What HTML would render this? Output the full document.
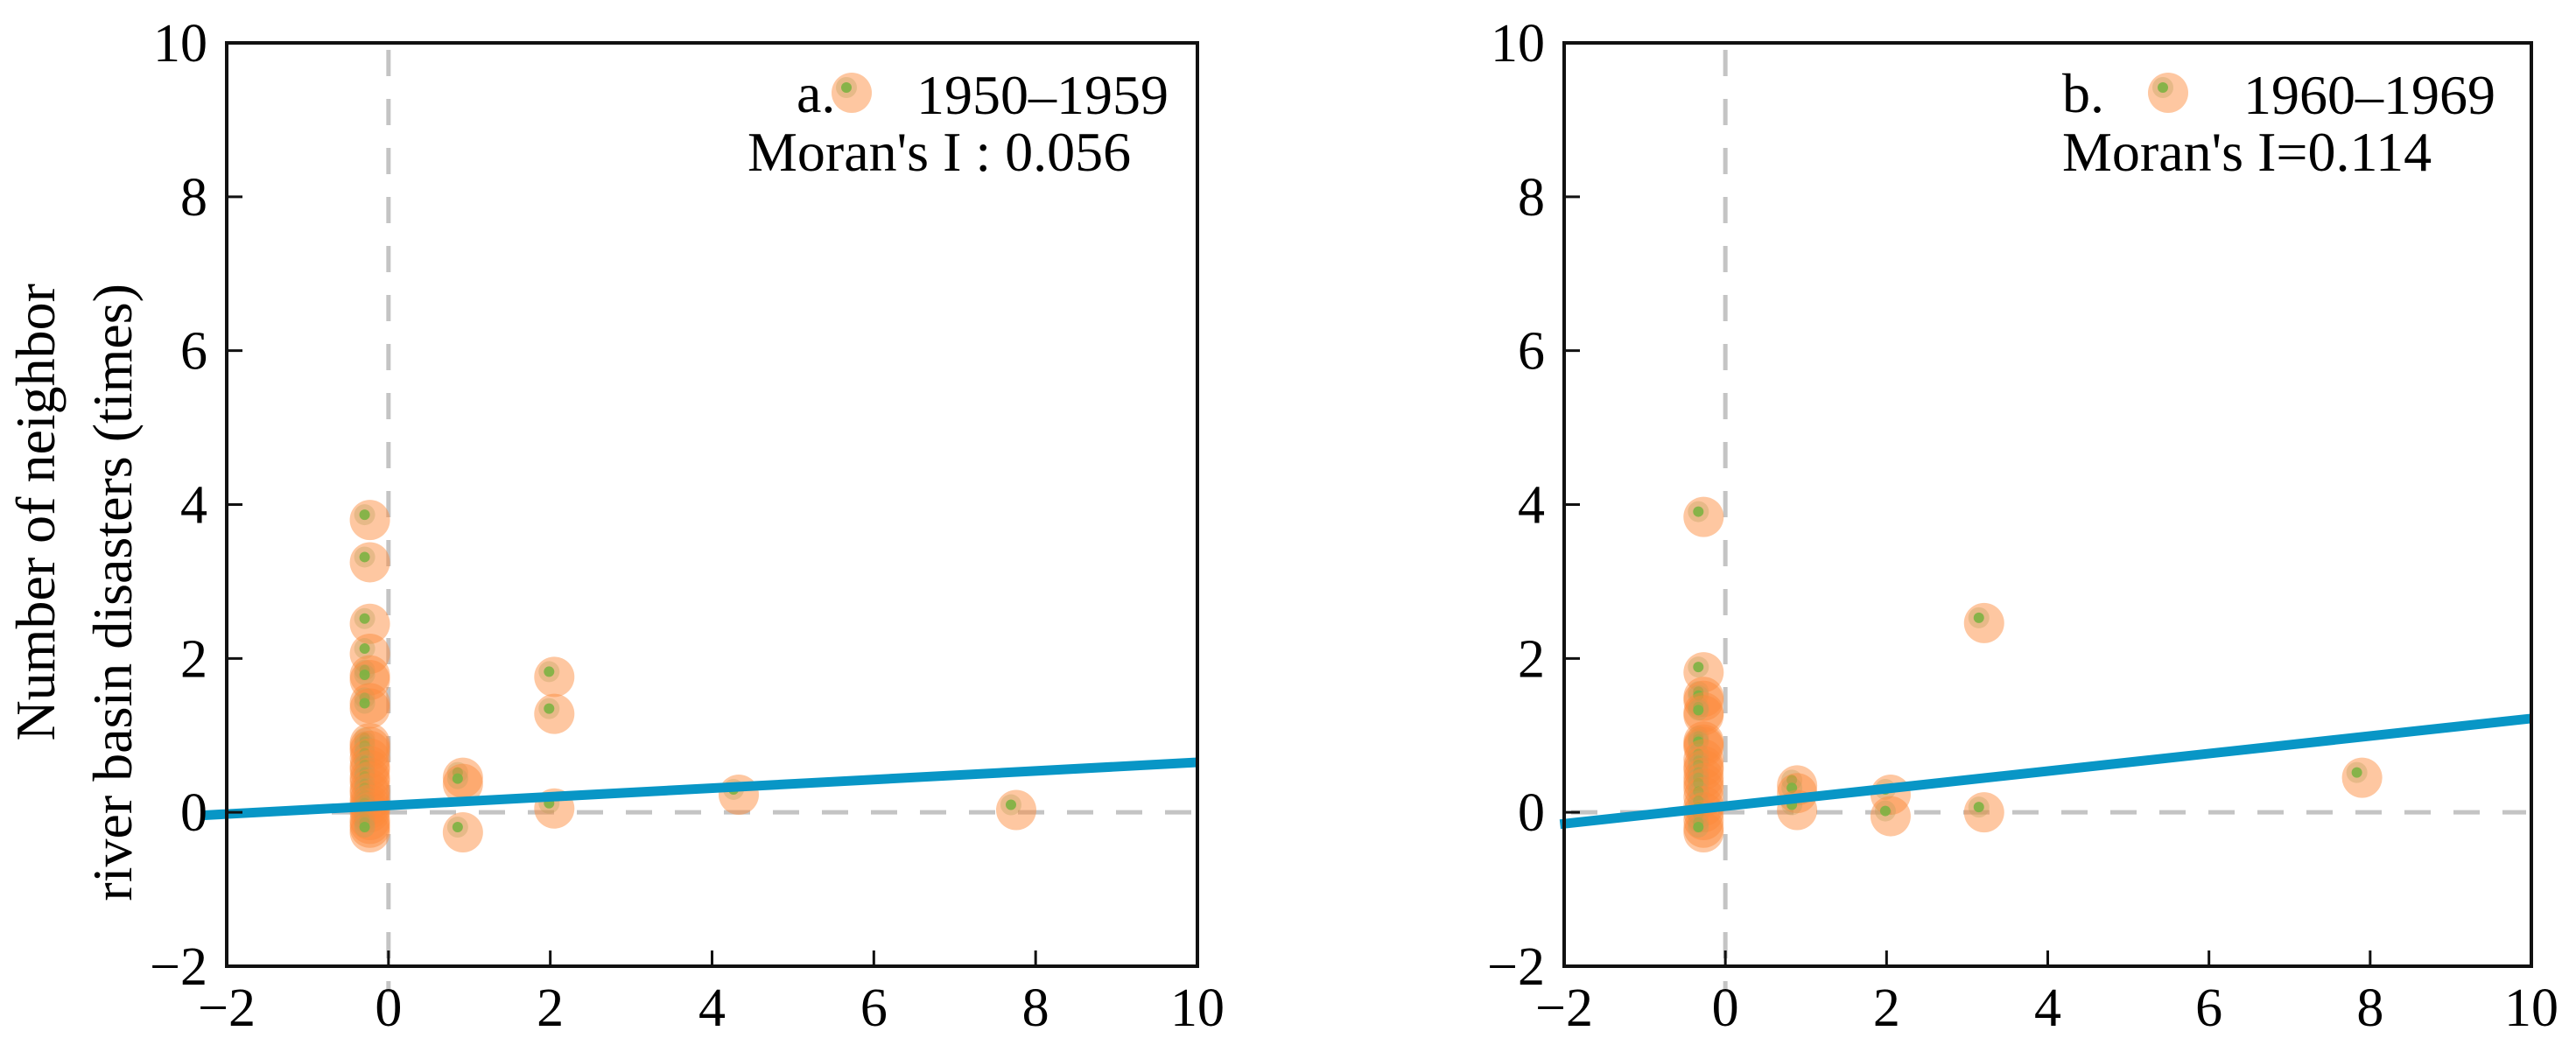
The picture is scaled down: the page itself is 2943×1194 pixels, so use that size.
<!DOCTYPE html>
<html><head><meta charset="utf-8">
<style>
html,body{margin:0;padding:0;background:#fff;}
svg{display:block;font-family:"Liberation Serif",serif;}
</style></head>
<body>
<svg id="chart" width="2943" height="1194" viewBox="0 0 2943 1194" xmlns="http://www.w3.org/2000/svg">
<text transform="translate(62,324) rotate(-90)" text-anchor="end" font-size="64">Number of neighbor</text>
<text transform="translate(150,324) rotate(-90)" text-anchor="end" font-size="64">river basin disasters (times)</text>
</svg>
<script>
// ---- data ----
const xTicks = [-2, 0, 2, 4, 6, 8, 10];
const yTicks = [-2, 0, 2, 4, 6, 8, 10];
const aX = [-0.23,-0.23,-0.23,-0.23,-0.23,-0.23,-0.23,-0.23,-0.23,-0.23,-0.23,-0.23,-0.23,-0.23,-0.23,-0.23,-0.23,-0.23,-0.23,-0.23,-0.23,-0.23,-0.23,-0.23,-0.23,-0.23,0.92,0.92,0.92,2.05,2.05,2.05,4.33,7.76];
const aY = [3.8,3.25,2.45,2.06,1.78,1.72,1.42,1.35,0.9,0.85,0.8,0.7,0.6,0.55,0.45,0.4,0.3,0.25,0.16,0.1,0.05,0.0,-0.1,-0.15,-0.2,-0.26,0.45,0.37,-0.26,1.76,1.28,0.05,0.23,0.03];
const bX = [-0.27,-0.27,-0.27,-0.27,-0.27,-0.27,-0.27,-0.27,-0.27,-0.27,-0.27,-0.27,-0.27,-0.27,-0.27,-0.27,-0.27,-0.27,-0.27,-0.27,-0.27,0.89,0.89,0.89,2.05,2.05,3.21,3.21,7.9];
const bY = [3.84,1.82,1.5,1.45,1.3,1.26,0.92,0.88,0.85,0.69,0.6,0.55,0.45,0.38,0.31,0.2,0.08,0.0,-0.1,-0.2,-0.26,0.35,0.25,0.03,0.23,-0.05,2.46,0.0,0.45];
const aFit = [0.056, 0.09];  // slope, intercept
const bFit = [0.114, 0.08];
const aFitRange = [-2.3, 10];
const bFitRange = [-2.05, 10];

const NS = 'http://www.w3.org/2000/svg';
const svg = document.getElementById('chart');
function el(tag, attrs, parent) {
  const e = document.createElementNS(NS, tag);
  for (const k in attrs) e.setAttribute(k, attrs[k]);
  (parent || svg).appendChild(e);
  return e;
}

function panel(cfg) {
  const g = el('g', {});
  
  
  const L = cfg.left, R = cfg.right, T = 49, B = 1104;
  const sx = v => L + (v + 2) / 12 * (R - L);
  const sy = v => B - (v + 2) / 12 * (B - T);
  const vd = el('line', {x1: sx(0), x2: sx(0), y1: T + 8, y2: B + 30, stroke: '#c4c4c4', 'stroke-width': 5, 'stroke-dasharray': '30 26'}, g);
  
  
  const hd = el('line', {x1: sx(-2) + 8, x2: R - 6, y1: sy(0), y2: sy(0), stroke: '#c4c4c4', 'stroke-width': 5, 'stroke-dasharray': '30 26'}, g);
  
  
  for (let i = 0; i < cfg.xs.length; i++) {
    const pg = el('g', {}, g);
    
    
    const cx = sx(cfg.xs[i]), cy = sy(cfg.ys[i]);
    el('circle', {cx: cx, cy: cy, r: 23, fill: 'rgb(252,138,58)', 'fill-opacity': 0.48}, pg);
    el('circle', {cx: cx - 6, cy: cy - 6, r: 12, fill: 'rgb(190,160,90)', 'fill-opacity': 0.35}, pg);
    el('circle', {cx: cx - 6, cy: cy - 6, r: 6, fill: '#7cb342', 'fill-opacity': 0.9}, pg);
  }
  const f = cfg.fit, r = cfg.range;
  const ln = el('line', {x1: sx(r[0]), y1: sy(f[0] * r[0] + f[1]), x2: sx(r[1]), y2: sy(f[0] * r[1] + f[1]), stroke: '#0896c6', 'stroke-width': 11}, g);
  
  
  const fr = el('rect', {x: L, y: T, width: R - L, height: B - T, fill: 'none', stroke: '#111', 'stroke-width': 4}, g);
  
  
  xTicks.forEach(t => {
    const x = sx(t);
    if (t > -2 && t < 10) {
      const tk = el('line', {x1: x, x2: x, y1: B, y2: B - 18, stroke: '#111', 'stroke-width': 3}, g);
      
      
    }
    const tx = el('text', {x: x, y: 1172, 'text-anchor': 'middle', 'font-size': 62}, g);
    
    
    tx.textContent = t < 0 ? '\u2212' + Math.abs(t) : String(t);
  });
  yTicks.forEach(t => {
    const y = sy(t);
    if (t > -2 && t < 10) {
      const tk = el('line', {x1: L, x2: L + 18, y1: y, y2: y, stroke: '#111', 'stroke-width': 3}, g);
      
      
    }
    const tx = el('text', {x: L - 22, y: y + 21, 'text-anchor': 'end', 'font-size': 62}, g);
    
    
    tx.textContent = t < 0 ? '\u2212' + Math.abs(t) : String(t);
  });
  const lg = el('g', {}, g);
  
  
  const lab = el('text', {x: cfg.legX, y: 128, 'font-size': 64}, lg);
  
  
  lab.textContent = cfg.label;
  el('circle', {cx: cfg.legC, cy: 106, r: 23, fill: 'rgb(252,138,58)', 'fill-opacity': 0.48}, lg);
  el('circle', {cx: cfg.legC - 6, cy: 100, r: 12, fill: 'rgb(190,160,90)', 'fill-opacity': 0.35}, lg);
  el('circle', {cx: cfg.legC - 6, cy: 100, r: 6, fill: '#7cb342', 'fill-opacity': 0.9}, lg);
  const per = el('text', {x: cfg.legT, y: 130, 'font-size': 64}, lg);
  
  
  per.textContent = cfg.period;
  const mi = el('text', {x: cfg.morX, y: 195, 'font-size': 64}, lg);
  
  
  mi.textContent = cfg.moran;
}

panel({name: 'panel-a-1950s', left: 259, right: 1368, xs: aX, ys: aY, fit: aFit, range: aFitRange,
  label: 'a.', period: '1950\u20131959', moran: "Moran's I : 0.056", legX: 910, legC: 973, legT: 1047, morX: 854});
panel({name: 'panel-b-1960s', left: 1787, right: 2892, xs: bX, ys: bY, fit: bFit, range: bFitRange,
  label: 'b.', period: '1960\u20131969', moran: "Moran's I=0.114", legX: 2356, legC: 2477, legT: 2563, morX: 2356});
</script>
</body></html>
